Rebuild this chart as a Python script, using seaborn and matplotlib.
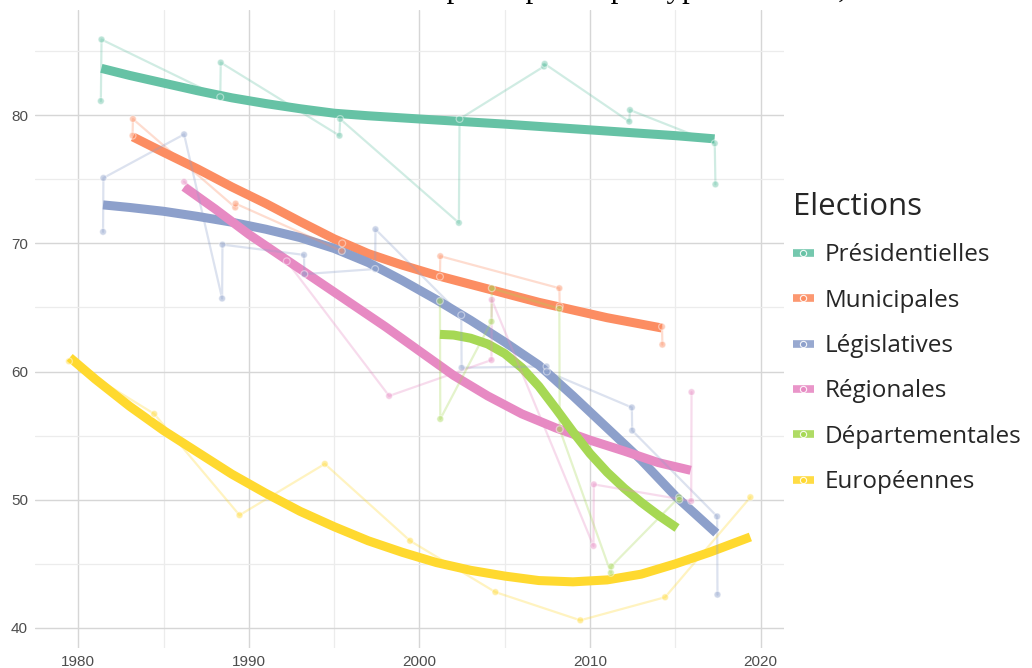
import numpy as np
import pandas as pd
import seaborn as sns
import matplotlib.pyplot as plt
from matplotlib.lines import Line2D

# taux de participation (%) par type d'élection, 1er et 2nd tour
presid_annee = [1981.32, 1981.36, 1988.32, 1988.35, 1995.31, 1995.35, 2002.31, 2002.35,
                2007.30, 2007.34, 2012.30, 2012.34, 2017.31, 2017.35]
presid_part = [81.1, 85.9, 81.4, 84.1, 78.4, 79.7, 71.6, 79.7, 83.8, 84.0, 79.5, 80.4, 77.8, 74.6]

munic_annee = [1983.18, 1983.20, 1989.20, 1989.22, 1995.45, 1995.47, 2001.20, 2001.22,
               2008.20, 2008.22, 2014.22, 2014.24]
munic_part = [78.4, 79.7, 72.8, 73.1, 69.4, 70.0, 67.4, 69.0, 66.5, 65.1, 63.5, 62.1]

legis_annee = [1981.45, 1981.47, 1986.20, 1988.43, 1988.45, 1993.23, 1993.25, 1997.40, 1997.42,
               2002.45, 2002.47, 2007.45, 2007.47, 2012.45, 2012.47, 2017.45, 2017.47]
legis_part = [70.9, 75.1, 78.5, 65.7, 69.9, 69.1, 67.6, 68.0, 71.1, 64.4, 60.3, 60.4, 60.0,
              57.2, 55.4, 48.7, 42.6]

region_annee = [1986.20, 1992.22, 1998.22, 2004.22, 2004.24, 2010.20, 2010.22, 2015.93, 2015.95]
region_part = [74.8, 68.6, 58.1, 60.9, 65.6, 46.4, 51.2, 49.9, 58.4]

dept_annee = [2001.20, 2001.22, 2004.22, 2004.24, 2008.20, 2008.22, 2011.22, 2011.24, 2015.22, 2015.24]
dept_part = [65.5, 56.3, 63.9, 66.5, 64.9, 55.5, 44.3, 44.8, 50.2, 50.0]

euro_annee = [1979.45, 1984.45, 1989.45, 1994.45, 1999.45, 2004.45, 2009.43, 2014.40, 2019.40]
euro_part = [60.8, 56.7, 48.8, 52.8, 46.8, 42.8, 40.6, 42.4, 50.2]

# tendances lissées
presid_tend_annee = [1981.35, 1983, 1985, 1987, 1989, 1991, 1993, 1995, 1997, 2000, 2005,
                     2010, 2015, 2017.3]
presid_tend = [83.65, 83.1, 82.5, 81.9, 81.35, 80.9, 80.5, 80.15, 79.95, 79.7, 79.3, 78.85,
               78.4, 78.15]

munic_tend_annee = [1983.2, 1985, 1987, 1989, 1991, 1993, 1995, 1997, 1999, 2001, 2003, 2005,
                    2007, 2009, 2011, 2013, 2014.2]
munic_tend = [78.3, 77.1, 75.8, 74.4, 73.1, 71.7, 70.35, 69.2, 68.3, 67.5, 66.8, 66.1, 65.4,
              64.8, 64.2, 63.7, 63.4]

legis_tend_annee = [1981.45, 1983, 1985, 1987, 1989, 1991, 1993, 1995, 1997, 1999, 2001, 2003,
                    2005, 2007, 2009, 2011, 2013, 2015, 2017.4]
legis_tend = [73.0, 72.8, 72.5, 72.1, 71.65, 71.1, 70.45, 69.6, 68.5, 67.1, 65.6, 64.0, 62.3,
              60.5, 58.1, 55.6, 53.1, 50.3, 47.4]

region_tend_annee = [1986.2, 1988, 1990, 1992, 1994, 1996, 1998, 2000, 2002, 2004, 2006, 2008,
                     2010, 2012, 2014, 2015.9]
region_tend = [74.4, 72.7, 70.7, 68.9, 67.1, 65.3, 63.5, 61.6, 59.7, 58.1, 56.7, 55.6, 54.65,
               53.8, 52.9, 52.3]

dept_tend_annee = [2001.2, 2002, 2003, 2004, 2005, 2006, 2007, 2008, 2009, 2010, 2011, 2012,
                   2013, 2014, 2015.1]
dept_tend = [62.9, 62.85, 62.6, 62.15, 61.4, 60.3, 58.85, 57.1, 55.3, 53.6, 52.15, 50.9, 49.8,
             48.8, 47.8]

euro_tend_annee = [1979.5, 1981, 1983, 1985, 1987, 1989, 1991, 1993, 1995, 1997, 1999, 2001,
                   2003, 2005, 2007, 2009, 2011, 2013, 2015, 2017, 2019.4]
euro_tend = [61.1, 59.4, 57.3, 55.4, 53.7, 52.0, 50.5, 49.1, 47.9, 46.8, 45.9, 45.1, 44.5,
             44.05, 43.7, 43.6, 43.75, 44.2, 45.0, 45.9, 47.1]

elections = ['Présidentielles', 'Municipales', 'Législatives', 'Régionales',
             'Départementales', 'Européennes']
series = [(presid_annee, presid_part), (munic_annee, munic_part), (legis_annee, legis_part),
          (region_annee, region_part), (dept_annee, dept_part), (euro_annee, euro_part)]
tendances = [(presid_tend_annee, presid_tend), (munic_tend_annee, munic_tend),
             (legis_tend_annee, legis_tend), (region_tend_annee, region_tend),
             (dept_tend_annee, dept_tend), (euro_tend_annee, euro_tend)]

df = pd.concat([pd.DataFrame({'annee': a, 'participation': p, 'Elections': nom})
                for nom, (a, p) in zip(elections, series)], ignore_index=True)
df_tend = pd.concat([pd.DataFrame({'annee': a, 'participation': p, 'Elections': nom})
                     for nom, (a, p) in zip(elections, tendances)], ignore_index=True)

couleurs = sns.color_palette('Set2', 6)
palette = dict(zip(elections, couleurs))

sns.set_style('white')
plt.rcParams['font.family'] = ['Liberation Sans', 'DejaVu Sans']

fig = plt.figure(figsize=(10.32, 6.68), dpi=100)
ax = fig.add_axes([35 / 1032, 20 / 668, 749 / 1032, 638 / 668])

sns.lineplot(data=df_tend, x='annee', y='participation', hue='Elections', palette=palette,
             hue_order=elections, estimator=None, lw=6.5, legend=False, ax=ax, zorder=2,
             solid_capstyle='butt', solid_joinstyle='round')
sns.lineplot(data=df, x='annee', y='participation', hue='Elections', palette=palette,
             hue_order=elections, estimator=None, sort=False, lw=1.6, alpha=0.3,
             legend=False, ax=ax, zorder=3)
sns.scatterplot(data=df, x='annee', y='participation', hue='Elections', palette=palette,
                hue_order=elections, s=24, alpha=0.45, edgecolor='white', linewidth=0.9,
                legend=False, ax=ax, zorder=4)

ax.set_xlim(1977.46, 2021.37)
ax.set_ylim(38.44, 88.2)
ax.set_xticks([1980, 1990, 2000, 2010, 2020])
ax.set_xticks([1985, 1995, 2005, 2015], minor=True)
ax.set_yticks([40, 50, 60, 70, 80])
ax.set_yticks([45, 55, 65, 75, 85], minor=True)
ax.grid(which='major', color='#d6d6d6', lw=1.0)
ax.grid(which='minor', color='#ececec', lw=0.9)
ax.set_axisbelow(True)
ax.tick_params(which='both', length=0, labelsize=11, labelcolor='#4d4d4d', pad=5)
ax.set_xlabel('')
ax.set_ylabel('')
for s in ax.spines.values():
    s.set_visible(False)

poignees = [Line2D([], [], color=c, lw=5.5, solid_capstyle='butt', marker='o', markersize=4.5,
                   markerfacecolor=c, markeredgecolor='#ffffff', markeredgewidth=0.8, alpha=0.9)
            for c in couleurs]
leg = fig.legend(poignees, elections, title='Elections', loc='upper left',
                 bbox_to_anchor=(771 / 1032, 1 - 170 / 668), frameon=False,
                 handlelength=0.85, handletextpad=0.45, labelspacing=0.88,
                 prop={'family': 'Open Sans', 'size': 17.5},
                 title_fontproperties={'family': 'Open Sans', 'size': 22.4})
leg._legend_box.align = 'left'

# titre coupé en haut de l'image
fig.text(340 / 1032, 1 + 3 / 668, "Taux de participation par type d'élection, 1979-2019",
         family='Liberation Serif', fontsize=22.3, va='baseline', ha='left', color='black')

fig.savefig('out.png', dpi=100)
